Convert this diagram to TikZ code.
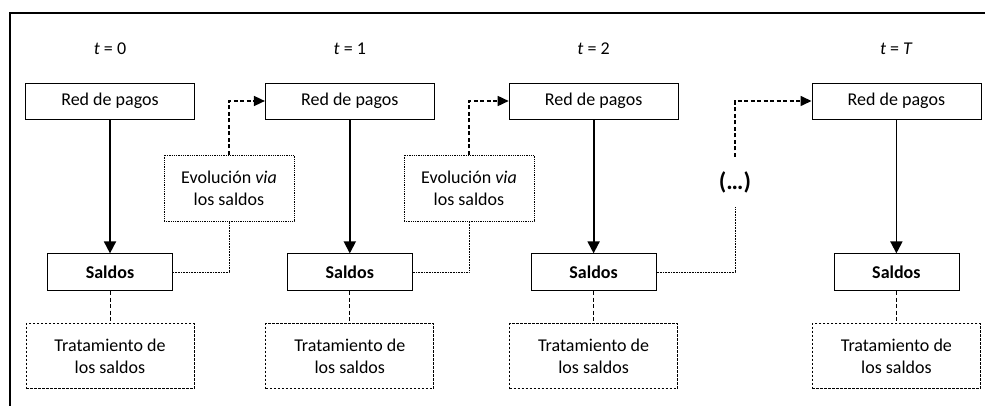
\documentclass[tikz,border=0pt]{standalone}
\usepackage{fontspec}
\setmainfont{Carlito}
\usetikzlibrary{positioning,arrows.meta}

\tikzset{
  redbox/.style={draw, line width=0.8pt, minimum width=169pt, minimum height=36pt},
  saldobox/.style={draw, line width=0.8pt, font=\fontsize{18}{22}\selectfont\bfseries,
    minimum width=125pt, minimum height=37pt},
  tratbox/.style={draw, line width=0.7pt, dash pattern=on 2.5pt off 1.5pt, align=center,
    minimum width=168pt, minimum height=65pt},
  evobox/.style={draw, line width=0.7pt, dash pattern=on 1pt off 0.8pt, align=center,
    minimum width=130pt, minimum height=66pt},
  tlabel/.style={inner sep=0pt},
  flecha/.style={line width=1.8pt, -{Triangle[length=12pt,width=12pt]}},
  flechapunt/.style={line width=1.6pt, dash pattern=on 4pt off 2.5pt, -{Triangle[length=11pt,width=10pt]}},
  lineapunt/.style={line width=0.8pt, dash pattern=on 1pt off 0.6pt},
  lineatrazo/.style={line width=1pt, dash pattern=on 4pt off 2.5pt}
}

\begin{document}
\begin{tikzpicture}[x=1pt, y=-1pt, every node/.style={font=\fontsize{18}{22}\selectfont}]
    \useasboundingbox (0,0) rectangle (985,406);
    % marco
    \draw[line width=1.2pt] (10,406) -- (10,13) -- (985,13);

    % redes de pagos
    \node[redbox] (red0) at (110,101) {Red de pagos};
    \node[redbox, right=70pt of red0] (red1) {Red de pagos};
    \node[redbox, right=74pt of red1] (red2) {Red de pagos};
    \node[redbox, right=133pt of red2] (redT) {Red de pagos};

    % periodos
    \node[tlabel, above=28pt of red0] (t0) {\textit{t} = 0};
    \node[tlabel, above=28pt of red1] (t1) {\textit{t} = 1};
    \node[tlabel, above=28pt of red2] (t2) {\textit{t} = 2};
    \node[tlabel, above=28pt of redT] (tT) {\textit{t} = \textit{T}};

    % saldos y tratamiento
    \foreach \c in {0,1,2,T} {
      \node[saldobox, below=134pt of red\c] (saldo\c) {Saldos};
      \node[tratbox, below=32pt of saldo\c] (trat\c) {Tratamiento de\\los saldos};
      \draw[flecha] (red\c) -- (saldo\c);
      \draw[lineatrazo] (saldo\c) -- (trat\c);
    }

    % evolucion
    \node[evobox] (evo0) at (229,188) {Evoluci\'on \textit{via}\\los saldos};
    \node[evobox] (evo1) at (469,188) {Evoluci\'on \textit{via}\\los saldos};
    \node[inner sep=0pt, minimum height=50pt, font=\fontsize{24}{28}\selectfont\bfseries]
      (dots) at (735,182) {(…)};

    \foreach \a/\b in {saldo0/evo0, saldo1/evo1, saldo2/dots}
      \draw[lineapunt] (\a.east) -| (\b.south);
    \foreach \a/\b in {evo0/red1, evo1/red2, dots/redT}
      \draw[flechapunt] (\a.north) |- (\b.west);
\end{tikzpicture}
\end{document}
